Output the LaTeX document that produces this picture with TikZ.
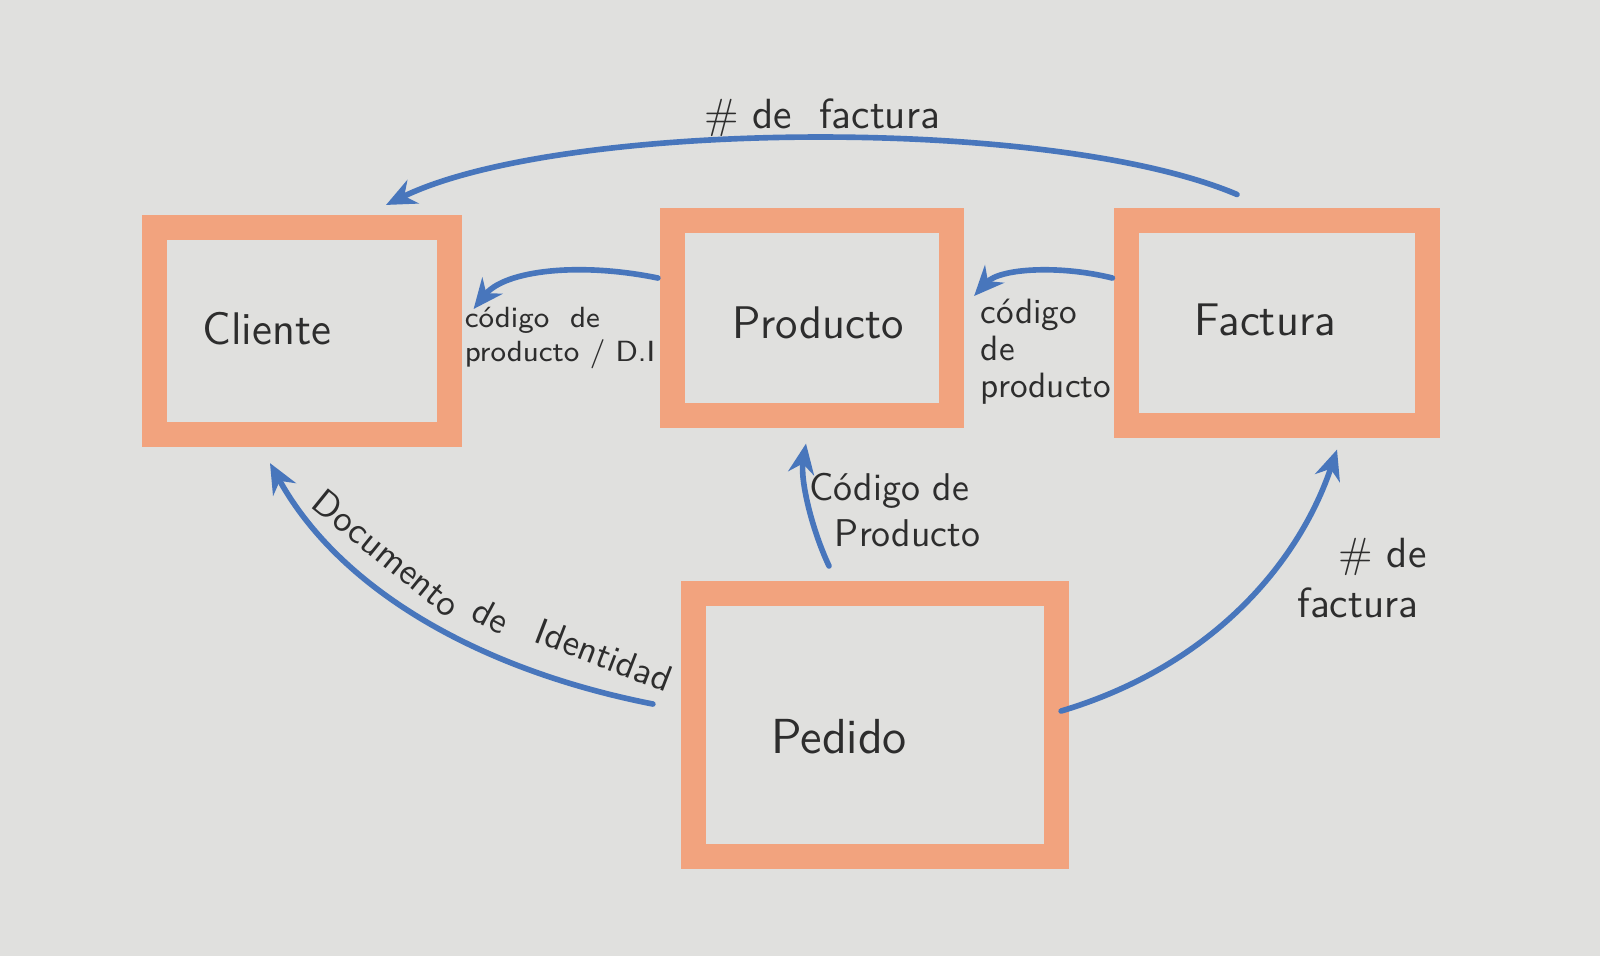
\documentclass[tikz,border=0pt]{standalone}
\usepackage{fontspec}
\usetikzlibrary{arrows.meta,calc}
\definecolor{paper}{RGB}{224,224,222}
\definecolor{marker}{RGB}{242,163,126}
\definecolor{crayon}{RGB}{72,118,188}
\definecolor{ink}{RGB}{45,45,45}
\begin{document}
\begin{tikzpicture}[x=0.01cm,y=-0.01cm,
  box/.style={draw=marker, line width=0.25cm, inner sep=0pt},
  boxtext/.style={font=\sffamily\fontsize{13}{15}\selectfont, text=ink},
  small/.style={font=\sffamily\fontsize{8.3}{9.5}\selectfont, text=ink, align=left, inner sep=1pt},
  mid/.style={font=\sffamily\fontsize{11}{13}\selectfont, text=ink, align=left, inner sep=1pt},
  word/.style={font=\sffamily\fontsize{10.5}{12}\selectfont, text=ink, inner sep=0pt},
  flow/.style={draw=crayon, line width=1.6pt, line cap=round, -{Stealth[length=0.3cm,width=0.26cm]}}]
\useasboundingbox (0,0) rectangle (1600,956);
\fill[paper] (0,0) rectangle (1600,956);

% boxes
\node[box, minimum width=2.94cm, minimum height=2.07cm] (cliente) at (302,331) {};
\node[box, minimum width=2.79cm, minimum height=1.94cm] (producto) at (812,318) {};
\node[box, minimum width=3.00cm, minimum height=2.04cm] (factura) at (1277,323) {};
\node[box, minimum width=3.63cm, minimum height=2.63cm] (pedido) at (875,725) {};

% box texts
\node[boxtext] (tcliente) at (267,329) {Cliente};
\node[boxtext] (tproducto) at (818,323) {Producto};
\node[boxtext] (tfactura) at (1265,320) {Factura};
\node[boxtext, font=\sffamily\fontsize{14}{16}\selectfont] (tpedido) at (839,737) {Pedido};

% connectors
\draw[flow] ($(factura.north)+(-40,-14)$) .. controls (1050,115) and (560,120) .. ($(cliente.north)+(84,-10)$);
\draw[flow] ($(producto.west)+(-2,-40)$) .. controls (580,262) and (505,270) .. ($(cliente.east)+(12,-22)$);
\draw[flow] ($(factura.west)+(-2,-45)$) .. controls (1060,265) and (1000,268) .. ($(producto.east)+(10,-22)$);
\draw[flow] ($(pedido.north)+(-46,-15)$) .. controls (812,530) and (800,480) .. ($(producto.south)+(-6,16)$);
\draw[flow] ($(pedido.west)+(-28,-21)$) .. controls (480,670) and (340,590) .. ($(cliente.south)+(-32,16)$);
\draw[flow] ($(pedido.east)+(-8,-14)$) .. controls (1215,665) and (1300,560) .. ($(factura.south)+(60,12)$);

% labels
\node[mid, font=\sffamily\fontsize{12}{14}\selectfont] (lfactura1) at (822,118) {\# de \ factura};
\node[small] (lcod1) at (560,338) {código \ de\\producto / D.I};
\node[mid, font=\sffamily\fontsize{10}{10.5}\selectfont] (lcod2) at (1046,352) {código\\de\\producto};
\node[mid] (lcod3) at (895,510) {Código de\\\ \ Producto};
\node[mid, font=\sffamily\fontsize{12}{14}\selectfont] (lfactura2) at (1362,578) {\ \ \ \# de\\factura};
\node[word, rotate=-39] (ldoc1) at (387,553) {Documento};
\node[word, rotate=-28] (ldoc2) at (491,616) {de};
\node[word, rotate=-21] (ldoc3) at (604,655) {Identidad};
\end{tikzpicture}
\end{document}
